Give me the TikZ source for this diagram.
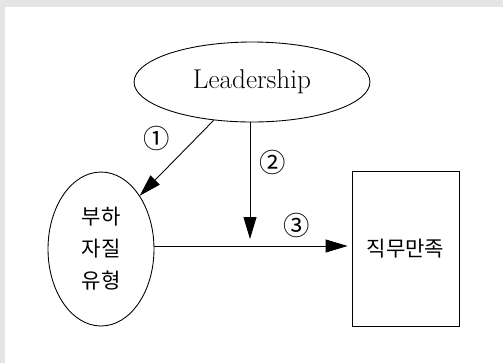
\documentclass[tikz,border=0pt]{standalone}
\usepackage{fontspec}
\newfontfamily\kr{Noto Sans CJK KR}
\usetikzlibrary{shapes.geometric,arrows.meta}

\begin{document}
\begin{tikzpicture}[x=0.02cm, y=-0.02cm, >={Triangle[length=4.4mm,width=2.6mm]}, line width=0.5pt]

% Hintergrund
\fill[black!10] (0,0) rectangle (503,363);
\fill[white] (5,7) rectangle (503,363);
\useasboundingbox (0,0) rectangle (503,363);

% Knoten (Ellipse, Box)
\node[draw, ellipse, inner sep=0pt, minimum width=4.72cm, minimum height=1.6cm, font=\fontsize{15.5}{18}\selectfont] (lead) at (252,82) {Leadership};
\node[draw, ellipse, inner sep=0pt, minimum width=2.12cm, minimum height=3.08cm, align=center, font=\kr\fontsize{12}{18.2}\selectfont] (sub) at (101,249) {부하\\자질\\유형};
\node[draw, rectangle, inner sep=0pt, minimum width=2.14cm, minimum height=3.1cm, font=\kr\fontsize{12}{13}\selectfont] (job) at (405.5,248.5) {직무만족};
\coordinate (mid) at (250,239);

% Verbindungen
\draw[->] (lead.225) -- (sub.54);
\draw[->] (lead.south -| mid) -- (mid);
\draw[->, shorten >=0.08cm] (sub.east |- 0,246) -- (job.west |- 0,246);

% Nummern
\node[font=\kr\fontsize{15}{17}\selectfont] (n1) at (157,138) {①};
\node[font=\kr\fontsize{15}{17}\selectfont] (n2) at (273,162) {②};
\node[font=\kr\fontsize{15}{17}\selectfont] (n3) at (297,225) {③};

\end{tikzpicture}
\end{document}
